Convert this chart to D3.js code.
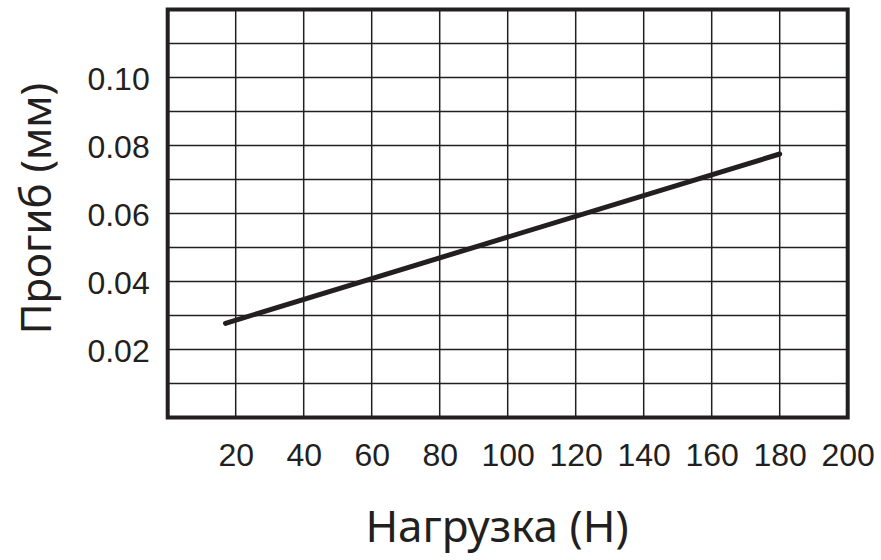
<!DOCTYPE html>
<html>
<head>
<meta charset="utf-8">
<script src="https://cdn.jsdelivr.net/npm/d3@7"></script>
<style>
  html, body { margin: 0; padding: 0; background: #fff; }
  svg { display: block; }
</style>
</head>
<body>
<svg id="chart" width="881" height="560"></svg>
<script>
// Data
const loadN = [17, 180];              // Нагрузка (Н)
const deflectionMm = [0.0277, 0.0775]; // Прогиб (мм)
const xTickValues = [20, 40, 60, 80, 100, 120, 140, 160, 180, 200];
const yTickValues = [0.02, 0.04, 0.06, 0.08, 0.10];
const yGridValues = [0.01, 0.02, 0.03, 0.04, 0.05, 0.06, 0.07, 0.08, 0.09, 0.10, 0.11];
const xTitle = "Нагрузка (Н)";
const yTitle = "Прогиб (мм)";

const ink = "#231f20";
const svg = d3.select("#chart");

const x = d3.scaleLinear().domain([0, 200]).range([167.7, 847.7]);
const y = d3.scaleLinear().domain([0, 0.12]).range([417.5, 9.5]);

// grid
const grid = svg.append("g");
grid.selectAll("line.v").data(xTickValues.slice(0, -1)).join("line")
  .attr("x1", d => x(d)).attr("x2", d => x(d))
  .attr("y1", y(0)).attr("y2", y(0.12))
  .attr("stroke", ink).attr("stroke-width", 1.5);
grid.selectAll("line.h").data(yGridValues).join("line")
  .attr("y1", d => y(d)).attr("y2", d => y(d))
  .attr("x1", x(0)).attr("x2", x(200))
  .attr("stroke", ink).attr("stroke-width", 1.5);

// frame
svg.append("rect")
  .attr("x", x(0)).attr("y", y(0.12))
  .attr("width", x(200) - x(0)).attr("height", y(0) - y(0.12))
  .attr("fill", "none").attr("stroke", ink).attr("stroke-width", 4);

// axes (labels only)
const xAxis = d3.axisBottom(x).tickValues(xTickValues).tickSize(0).tickPadding(0)
  .tickFormat(d3.format("d"));
const gx = svg.append("g").attr("transform", `translate(0, ${y(0)})`).call(xAxis);
gx.select(".domain").remove();
gx.selectAll("text")
  .attr("y", 48).attr("dy", null)
  .attr("font-family", "'Liberation Sans', Arial, sans-serif")
  .attr("font-size", 32).attr("fill", ink);

const yAxis = d3.axisLeft(y).tickValues(yTickValues).tickSize(0).tickPadding(0)
  .tickFormat(d3.format(".2f"));
const gy = svg.append("g").attr("transform", `translate(${x(0)}, 0)`).call(yAxis);
gy.select(".domain").remove();
gy.selectAll("text")
  .attr("x", -18).attr("dy", "0.36em")
  .attr("font-family", "'Liberation Sans', Arial, sans-serif")
  .attr("font-size", 32).attr("fill", ink);

// data line
const pts = loadN.map((v, i) => [v, deflectionMm[i]]);
svg.append("path")
  .datum(pts)
  .attr("d", d3.line().x(d => x(d[0])).y(d => y(d[1])))
  .attr("fill", "none").attr("stroke", ink)
  .attr("stroke-width", 5).attr("stroke-linecap", "round");

// titles
svg.append("text")
  .attr("x", 497).attr("y", 542)
  .attr("text-anchor", "middle")
  .attr("font-family", "'Noto Sans', 'Open Sans', sans-serif")
  .attr("font-size", 44).attr("fill", ink)
  .text(xTitle);

svg.append("text")
  .attr("transform", "translate(51, 208.5) rotate(-90)")
  .attr("text-anchor", "middle")
  .attr("font-family", "'Noto Sans', 'Open Sans', sans-serif")
  .attr("font-size", 42).attr("fill", ink)
  .text(yTitle);
</script>
</body>
</html>
